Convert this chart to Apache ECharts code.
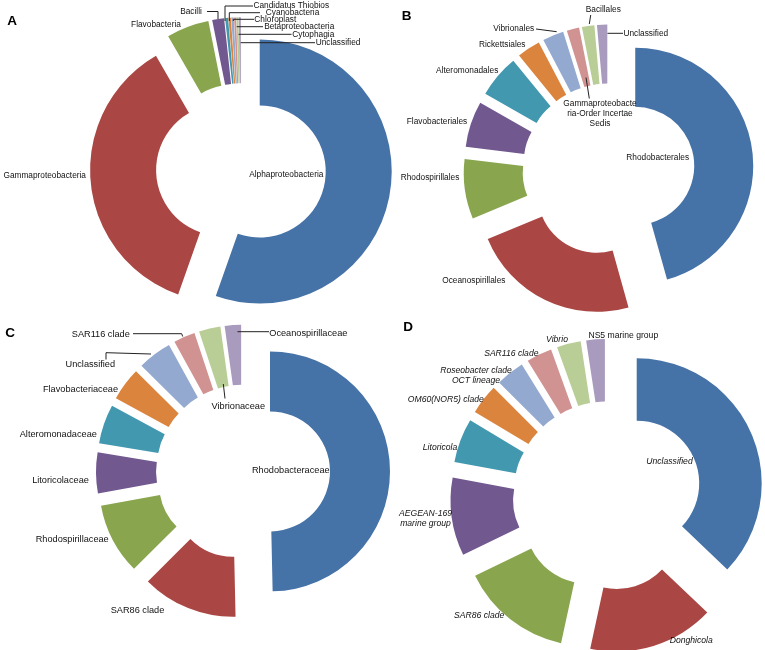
<!DOCTYPE html>
<html><head><meta charset="utf-8">
<script src="https://cdn.jsdelivr.net/npm/echarts@6/dist/echarts.min.js"></script>
<style>html,body{margin:0;padding:0;background:#fff}#c{width:765px;height:650px}</style>
</head><body><div id="c"></div>
<script>
// ---------- data ----------
const panelLetters = ['A', 'B', 'C', 'D'];

const namesA = ['Alphaproteobacteria','Gammaproteobacteria','Flavobacteria','Bacilli','Candidatus Thiobios','Cyanobacteria','Chloroplast','Betaproteobacteria','Cytophagia','Unclassified'];
const valuesA = [55.4, 36.25, 5.2, 1.45, 0.35, 0.3, 0.3, 0.25, 0.25, 0.25];

const namesB = ['Rhodobacterales','Oceanospirillales','Rhodospirillales','Flavobacteriales','Alteromonadales','Rickettsiales','Vibrionales','Gammaproteobacteria-Order Incertae Sedis','Bacillales','Unclassified'];
const labelsB = ['Rhodobacterales','Oceanospirillales','Rhodospirillales','Flavobacteriales','Alteromonadales','Rickettsiales','Vibrionales','Gammaproteobacte\nria-Order Incertae\nSedis','Bacillales','Unclassified'];
const valuesB = [45.7, 23.1, 8.2, 6.3, 5.9, 3.2, 2.9, 1.7, 1.7, 1.4];

const namesC = ['Rhodobacteraceae','SAR86 clade','Rhodospirillaceae','Litoricolaceae','Alteromonadaceae','Flavobacteriaceae','Unclassified','SAR116 clade','Vibrionaceae','Oceanospirillaceae'];
const valuesC = [49.7, 12.9, 9.6, 5.5, 5.3, 4.5, 4.6, 2.9, 2.9, 2.2];

const namesD = ['Unclassified','Donghicola','SAR86 clade','AEGEAN-169 marine group','Litoricola','OM60(NOR5) clade','Roseobacter clade OCT lineage','SAR116 clade','Vibrio','NS5 marine group'];
const labelsD = ['Unclassified','Donghicola','SAR86 clade','AEGEAN-169\nmarine group','Litoricola','OM60(NOR5) clade','Roseobacter clade\nOCT lineage','SAR116 clade','Vibrio','NS5 marine group'];
const valuesD = [37.1, 16.3, 14.4, 10.1, 5.7, 3.9, 3.7, 3.3, 3.1, 2.4];

// ---------- layout / style ----------
const colors = ['#4572A7','#AA4643','#89A54E','#71588F','#4198AF','#DB843D','#93A9CF','#D19392','#B9CD96','#A99BBD'];
const FONT = '"Liberation Sans", Arial, sans-serif';

const layoutA = { center: [241, 168.3], radius: [66, 132], offset: 19, fontSize: 8.3,
  labelPos: [[286.3,175],[44.7,176],[156,25],[191,11.5],[291.3,6],[292.5,12.7],[275.3,19.3],[299.2,26.7],[313.3,34.3],[338,42.7]],
  leaders: [null,null,null,
    [[218,19],[218,11.5],[207,11.5]],
    [[225,21],[225,6],[253,6]],
    [[229.3,21],[229.3,12.7],[260,12.7]],
    [[233.3,21],[233.3,19.3],[254,19.3]],
    [[236.7,26.7],[263,26.7]],
    [[238.5,34.3],[291.5,34.3]],
    [[240.7,42.7],[315,42.7]]] };
const layoutB = { center: [608.5, 169.5], radius: [59, 118], offset: 27, fontSize: 8.3, lineHeight: 9.7,
  labelPos: [[657.7,157.3],[473.8,281],[430,177.7],[437,121.7],[467.2,70.7],[502.2,45],[513.7,28.5],[600,113.8],[603.3,9.3],[645.8,34]],
  leaders: [null,null,null,null,null,null,
    [[556.7,31.7],[536,29]],
    [[586,77.5],[589.3,98.5]],
    [[589.3,24],[590.7,15]],
    [[607.5,33.3],[623,33.3]]] };
const layoutC = { center: [243, 471.7], radius: [60, 120], offset: 27, fontSize: 9.2,
  labelPos: [[290.8,470],[137.5,610.7],[72.2,539],[60.5,480],[58.3,434],[80.5,389],[90.3,364.3],[100.8,334],[238.3,406.5],[308.3,333]],
  leaders: [null,null,null,null,null,null,
    [[151,354],[106,352.7],[106,359.5]],
    [[182.7,336.5],[181.7,333.7],[133,333.7]],
    [[223.3,384],[225,398.5]],
    [[237.5,331.7],[269,331.7]]] };
const layoutD = { center: [607.3, 495.9], radius: [62.5, 125], offset: 32, fontSize: 8.6, lineHeight: 10.2, italic: true, uprightIdx: [9],
  labelPos: [[669.5,461.7],[691.3,640.7],[479.2,616],[425.5,518.3],[440,447.3],[445.8,400],[476,375.8],[511.3,353.3],[557,340],[623.3,336]],
  leaders: [] };
const letterPos = [[12,21],[406.7,16],[10,333],[408,327]];

const panels = [
  { names: namesA, labels: namesA, values: valuesA, L: layoutA },
  { names: namesB, labels: labelsB, values: valuesB, L: layoutB },
  { names: namesC, labels: namesC, values: valuesC, L: layoutC },
  { names: namesD, labels: labelsD, values: valuesD, L: layoutD }
];

const series = [];
panels.forEach(function (p) {
  const L = p.L;
  // exploded slices
  series.push({
    type: 'pie', center: L.center, radius: L.radius, startAngle: 90, clockwise: true,
    selectedMode: 'multiple', selectedOffset: L.offset, animation: false,
    emphasis: { disabled: true }, silent: true,
    label: { show: false }, labelLine: { show: false },
    data: p.values.map(function (v, i) {
      return { name: p.names[i], value: v, selected: true, itemStyle: { color: colors[i], borderWidth: 0 } };
    })
  });
  // label layer (transparent slices carrying the texts and leader lines)
  series.push({
    type: 'pie', center: L.center, radius: L.radius, startAngle: 90, clockwise: true,
    avoidLabelOverlap: false, animation: false, z: 5,
    emphasis: { disabled: true }, silent: true,
    itemStyle: { color: 'rgba(0,0,0,0)', borderWidth: 0 },
    label: {
      show: true, position: 'outside', color: '#111', fontFamily: FONT,
      fontSize: L.fontSize, lineHeight: L.lineHeight || Math.round(L.fontSize * 1.2),
      fontStyle: L.italic ? 'italic' : 'normal'
    },
    labelLine: { show: false, lineStyle: { color: '#222', width: 1 } },
    labelLayout: function (params) {
      const pos = L.labelPos[params.dataIndex];
      const res = { x: pos[0], y: pos[1], align: 'center', verticalAlign: 'middle' };
      const ln = L.leaders[params.dataIndex];
      if (ln) res.labelLinePoints = ln;
      return res;
    },
    data: p.values.map(function (v, i) {
      const item = {
        name: p.names[i], value: v,
        label: { formatter: p.labels[i] },
        labelLine: { show: !!L.leaders[i], length: 5, length2: 5 }
      };
      if (L.uprightIdx && L.uprightIdx.indexOf(i) >= 0) item.label.fontStyle = 'normal';
      return item;
    })
  });
});

const chart = echarts.init(document.getElementById('c'), null, { renderer: 'canvas' });
chart.setOption({
  backgroundColor: '#fff',
  animation: false,
  graphic: panelLetters.map(function (t, i) {
    return { type: 'text', x: letterPos[i][0], y: letterPos[i][1],
      style: { text: t, font: 'bold 13.5px ' + FONT, fill: '#000', align: 'center', verticalAlign: 'middle' } };
  }),
  series: series
});
</script>
</body></html>
